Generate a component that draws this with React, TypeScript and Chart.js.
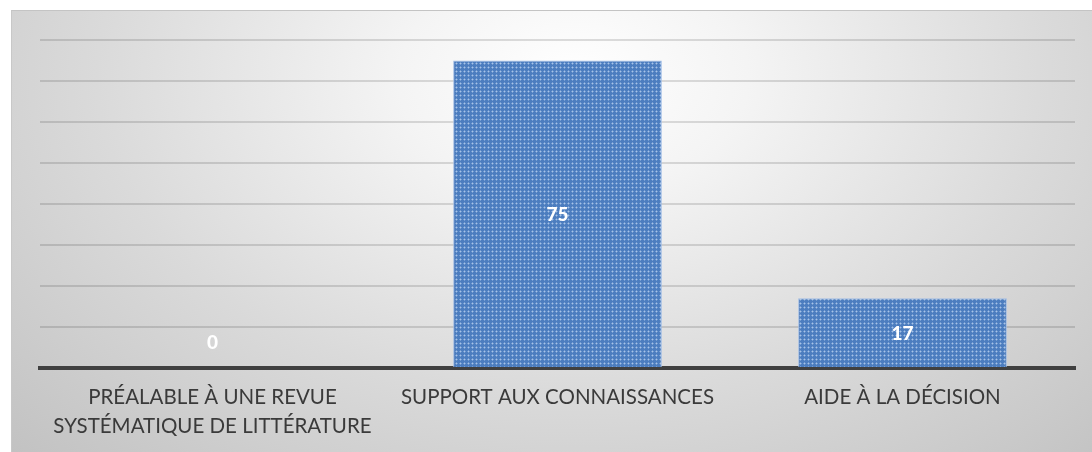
import React, { useEffect, useRef } from "react";
import { Chart, registerables } from "chart.js";

Chart.register(...registerables);

const categories: (string | string[])[] = [
  ["PRÉALABLE À UNE REVUE", "SYSTÉMATIQUE DE LITTÉRATURE"],
  "SUPPORT AUX CONNAISSANCES",
  "AIDE À LA DÉCISION",
];
const values = [0, 75, 17];
const yMin = 0;
const yMax = 80;
const yStep = 10;

function makePattern(): CanvasPattern | string {
  const c = document.createElement("canvas");
  c.width = 4;
  c.height = 4;
  const g = c.getContext("2d");
  if (!g) return "#4f81bd";
  g.fillStyle = "#4c7dbf";
  g.fillRect(0, 0, 4, 4);
  g.fillStyle = "#759dd2";
  g.fillRect(0, 1, 3, 1);
  g.fillRect(1, 0, 1, 3);
  g.fillStyle = "#a8c3e7";
  g.fillRect(1, 1, 1, 1);
  const p = g.createPattern(c, "repeat");
  return p || "#4f81bd";
}

const valueLabels = {
  id: "valueLabels",
  afterDatasetsDraw(chart: any) {
    const ctx = chart.ctx;
    const meta = chart.getDatasetMeta(0);
    ctx.save();
    ctx.fillStyle = "#ffffff";
    ctx.font = "900 19px Lato, 'Open Sans', sans-serif";
    ctx.textAlign = "center";
    ctx.textBaseline = "middle";
    meta.data.forEach((bar: any, i: number) => {
      const center = (bar.y + bar.base) / 2;
      const y = Math.min(center, bar.base - 26);
      ctx.fillText(String(values[i]), bar.x, y + 1);
    });
    ctx.restore();
  },
};

export default function App() {
  const ref = useRef<HTMLCanvasElement | null>(null);
  useEffect(() => {
    document.body.style.margin = "0";
    if (!ref.current) return;
    const pattern = makePattern();
    const chart = new Chart(ref.current, {
      type: "bar",
      data: {
        labels: categories,
        datasets: [
          {
            data: values,
            backgroundColor: pattern as any,
            borderColor: "rgba(155,185,228,0.9)",
            borderWidth: 1,
            barPercentage: 0.605,
            categoryPercentage: 1,
          },
        ],
      },
      options: {
        animation: false,
        responsive: false,
        maintainAspectRatio: false,
        layout: { padding: { left: 29, right: 17, top: 30, bottom: 0 } },
        plugins: {
          legend: { display: false },
          tooltip: { enabled: false },
        },
        scales: {
          x: {
            grid: { display: false, drawTicks: false },
            border: { display: true, color: "#404040", width: 4 },
            ticks: {
              color: "#3a3a3a",
              font: { family: "Lato, 'Open Sans', sans-serif", size: 20.5, lineHeight: 1.42 },
              padding: 15,
              maxRotation: 0,
              autoSkip: false,
            },
            afterFit: (s: any) => {
              s.height = 84;
            },
          },
          y: {
            min: yMin,
            max: yMax,
            ticks: { display: false, stepSize: yStep },
            border: { display: false },
            grid: { color: "rgba(0,0,0,0.13)", lineWidth: 2, drawTicks: false },
            afterFit: (s: any) => {
              s.width = 0;
            },
          },
        },
      },
      plugins: [valueLabels],
    });
    return () => chart.destroy();
  }, []);
  return (
    <div style={{ position: "relative", width: 1092, height: 452, background: "#ffffff", overflow: "hidden" }}>
      <div
        style={{
          position: "absolute",
          left: 11,
          top: 10,
          width: 1081,
          height: 442,
          borderTop: "1px solid #c4c4c4",
          borderLeft: "1px solid #c8c8c8",
          boxSizing: "border-box",
          background:
            "radial-gradient(ellipse farthest-corner at 52% 15%, #ffffff 0%, #f4f4f4 22%, #dadada 60%, #c2c2c2 100%)",
        }}
      />
      <canvas ref={ref} width={1081} height={442} style={{ position: "absolute", left: 11, top: 10 }} />
    </div>
  );
}
